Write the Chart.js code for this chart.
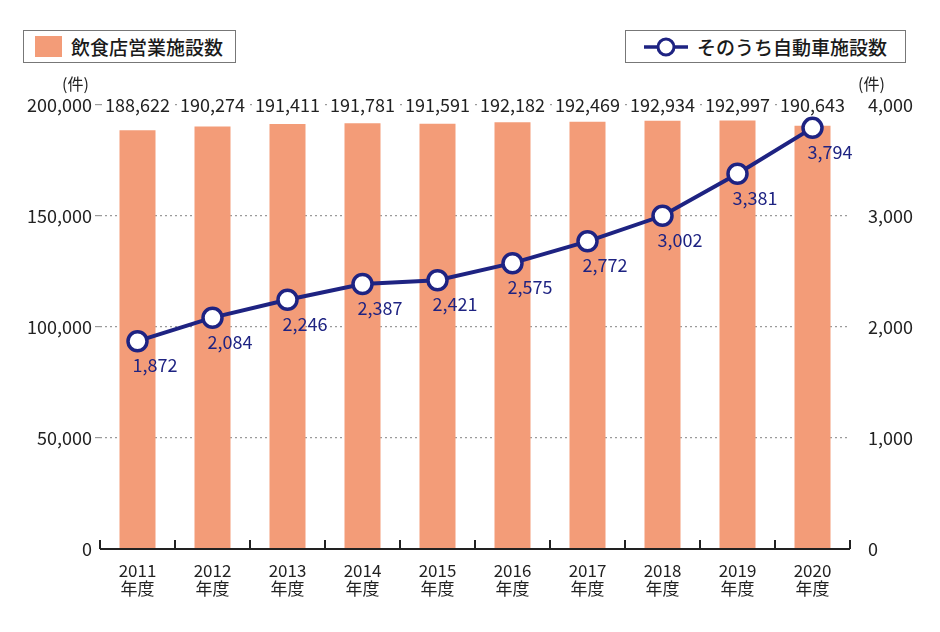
<!DOCTYPE html>
<html>
<head>
<meta charset="utf-8">
<script src="https://cdn.jsdelivr.net/npm/chart.js@4"></script>
<style>
  body { margin: 0; background: #fff; font-family: "Noto Sans CJK JP", sans-serif; }
  #wrap { position: relative; width: 940px; height: 632px; }
  .legend { position: absolute; border: 1.5px solid #777; background: #fff; height: 33px;
            display: flex; align-items: center; font-size: 19px; font-weight: 500; color: #1a1a1a; box-sizing: border-box; }
  .unit { position: absolute; font-size: 16px; color: #222; }
</style>
</head>
<body>
<div id="wrap">
  <canvas id="myChart" width="940" height="632"></canvas>
  <div class="legend" style="left:23px; top:30px; width:213px;">
    <span style="display:inline-block; width:27px; height:21px; background:#F39C78; margin:0 9px 0 11px;"></span>飲食店営業施設数
  </div>
  <div class="legend" style="left:625px; top:30px; width:281px;">
    <svg width="50" height="24" style="margin:0 5px 0 16px;">
      <line x1="2" y1="12" x2="46" y2="12" stroke="#1E2382" stroke-width="3.5"/>
      <circle cx="24" cy="12" r="8" fill="#fff" stroke="#1E2382" stroke-width="3"/>
    </svg>そのうち自動車施設数
  </div>
  <div class="unit" style="left:62px; top:71px;">(件)</div>
  <div class="unit" style="left:858px; top:71px;">(件)</div>
</div>
<script>
const years = ['2011', '2012', '2013', '2014', '2015', '2016', '2017', '2018', '2019', '2020'];
const restaurantCounts = [188622, 190274, 191411, 191781, 191591, 192182, 192469, 192934, 192997, 190643];
const carCounts = [1872, 2084, 2246, 2387, 2421, 2575, 2772, 3002, 3381, 3794];
const leftTicks = [0, 50000, 100000, 150000, 200000];
const rightTicks = [0, 1000, 2000, 3000, 4000];

const BAR_COLOR = '#F39C78';
const NAVY = '#1E2382';
const FONT = '"Noto Sans CJK JP", sans-serif';

function fmt(n) {
  return n.toLocaleString('en-US');
}

// value labels, x axis line with upward ticks
const labelPlugin = {
  id: 'labelPlugin',
  afterDatasetsDraw(chart) {
    const ctx = chart.ctx;
    const area = chart.chartArea;
    const x = chart.scales.x;
    const yL = chart.scales.yL;
    ctx.save();

    // axis line + ticks
    ctx.strokeStyle = '#222';
    ctx.lineWidth = 2;
    ctx.beginPath();
    ctx.moveTo(area.left, area.bottom);
    ctx.lineTo(area.right, area.bottom);
    const step = x.getPixelForValue(1) - x.getPixelForValue(0);
    for (let i = 0; i <= years.length; i++) {
      const px = x.getPixelForValue(0) - step / 2 + step * i;
      ctx.moveTo(px, area.bottom);
      ctx.lineTo(px, area.bottom - 9);
    }
    ctx.stroke();

    // bar totals along the top row
    ctx.font = '18px ' + FONT;
    ctx.textAlign = 'center';
    ctx.textBaseline = 'middle';
    const topY = yL.getPixelForValue(200000);
    restaurantCounts.forEach((v, i) => {
      const px = x.getPixelForValue(i);
      const t = fmt(v);
      const w = ctx.measureText(t).width;
      ctx.fillStyle = '#fff';
      ctx.fillRect(px - w / 2 - 3, topY - 10, w + 6, 20);
      ctx.fillStyle = '#222';
      ctx.fillText(t, px, topY);
    });

    // line labels below the points
    ctx.fillStyle = NAVY;
    ctx.textAlign = 'left';
    const meta = chart.getDatasetMeta(1);
    meta.data.forEach((pt, i) => {
      ctx.fillText(fmt(carCounts[i]), pt.x - 5, pt.y + 24);
    });
    ctx.restore();
  }
};

const chartTarget = document.querySelector('#myChart');
const chart = new Chart(chartTarget, {
  data: {
    labels: years.map(y => [y, '年度']),
    datasets: [
      {
        type: 'bar',
        label: '飲食店営業施設数',
        data: restaurantCounts,
        backgroundColor: BAR_COLOR,
        barPercentage: 0.48,
        categoryPercentage: 1,
        yAxisID: 'yL',
        order: 2
      },
      {
        type: 'line',
        label: 'そのうち自動車施設数',
        data: carCounts,
        borderColor: NAVY,
        borderWidth: 4,
        pointRadius: 9.5,
        pointBorderWidth: 3.5,
        pointBackgroundColor: '#fff',
        pointBorderColor: NAVY,
        yAxisID: 'yR',
        order: 1
      }
    ]
  },
  options: {
    responsive: false,
    animation: false,
    layout: { padding: { top: 105, left: 0, right: 0, bottom: 0 } },
    plugins: {
      legend: { display: false },
      tooltip: { enabled: false }
    },
    scales: {
      x: {
        offset: true,
        grid: { display: false },
        border: { display: false },
        ticks: {
          color: '#222',
          font: { family: FONT, size: 17, lineHeight: 1.05 },
          padding: 5
        },
        afterFit(scale) { scale.height = 83; }
      },
      yL: {
        position: 'left',
        min: 0,
        max: 200000,
        afterBuildTicks(scale) { scale.ticks = leftTicks.map(v => ({ value: v })); },
        grid: {
          color: ctx => ctx.tick && ctx.tick.value === 0 ? 'rgba(0,0,0,0)' : '#9a9a9a',
          lineWidth: 1.2,
          drawTicks: true,
          tickLength: 5
        },
        border: { display: false, dash: [2, 3] },
        ticks: {
          color: '#222',
          font: { family: FONT, size: 18 },
          padding: 3,
          callback: v => fmt(v)
        },
        afterFit(scale) { scale.width = 100; }
      },
      yR: {
        position: 'right',
        min: 0,
        max: 4000,
        afterBuildTicks(scale) { scale.ticks = rightTicks.map(v => ({ value: v })); },
        grid: { display: false },
        border: { display: false },
        ticks: {
          color: '#222',
          font: { family: FONT, size: 18 },
          padding: 10,
          callback: v => fmt(v)
        },
        afterFit(scale) { scale.width = 90; }
      }
    }
  },
  plugins: [labelPlugin]
});
</script>
</body>
</html>
